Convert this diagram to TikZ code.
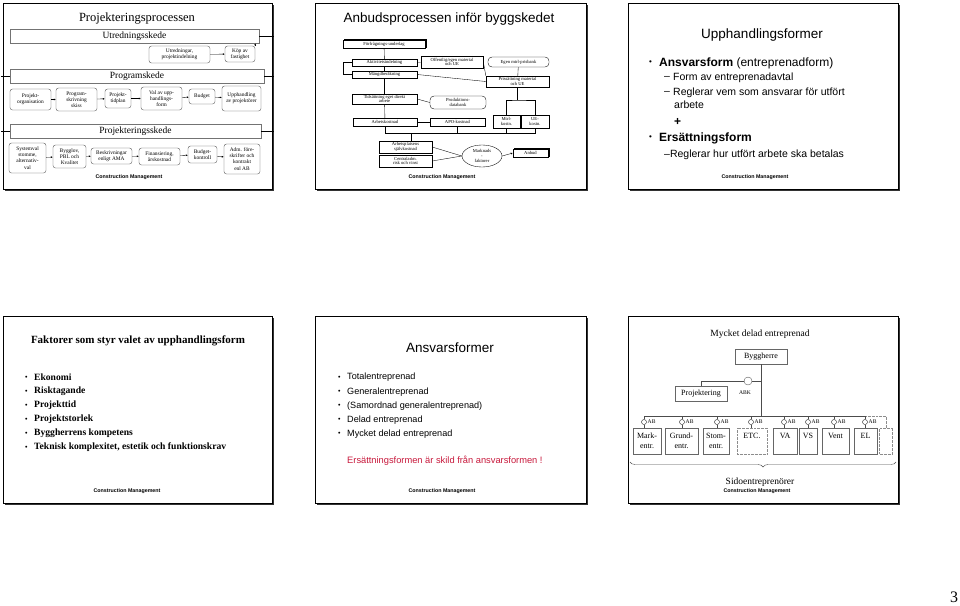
\documentclass[tikz,border=0pt]{standalone}
\usepackage{fontspec}
\setmainfont{Liberation Serif}
\setsansfont{Liberation Sans}
\usetikzlibrary{arrows.meta,shapes.geometric,shadows,decorations.pathreplacing}
\definecolor{redtxt}{RGB}{200,25,60}
\newcommand{\fs}[2]{\fontsize{#1}{#2}\selectfont}
\newcommand{\slideframe}[4]{%
  \fill[black!80] (#1+2,#2+2) rectangle (#3+2,#4+2);
  \draw[line width=0.6pt, fill=white] (#1,#2) rectangle (#3,#4);}
\begin{document}
\begin{tikzpicture}[x=1pt,y=-1pt,
  sz/.style 2 args={minimum width=#1pt, minimum height=#2pt},
  s1title/.style={font=\fs{12.5}{14}},
  s1bar/.style={draw=black!55, fill=white, inner sep=0pt, font=\fs{9.5}{10}, line width=0.4pt},
  s1box/.style={draw=black!70, rounded corners=2.5pt, fill=white, align=center, inner sep=0pt, font=\fs{5.4}{6.2}, line width=0.35pt},
  s1arr/.style={-{Latex[length=2pt,width=1.8pt]}, line width=0.35pt},
  s2box/.style={draw, fill=white, align=center, inner sep=0pt, font=\fs{4.6}{4.8}, line width=0.35pt},
  s2line/.style={line width=0.35pt},
  cmtxt/.style={font=\sffamily\bfseries\fs{5.3}{6}},
  sanstitle/.style={font=\sffamily\fs{13.5}{15}},
  s3big/.style={font=\sffamily\fs{12}{13}, anchor=west, inner sep=0pt},
  s3sub/.style={font=\sffamily\fs{10.5}{12}, anchor=west, inner sep=0pt},
  s4item/.style={font=\bfseries\fs{9.6}{10}, anchor=west, inner sep=0pt},
  s5item/.style={font=\sffamily\fs{9.1}{10}, anchor=west, inner sep=0pt},
  s6title/.style={font=\fs{9.5}{11}},
  s6box/.style={draw=black!60, fill=white, align=center, inner sep=0pt, font=\fs{8}{9.5}, line width=0.35pt},
  s6dot/.style={s6box, densely dotted, draw=black!45},
  abc/.style={circle, draw, fill=white, minimum size=5pt, inner sep=0pt, line width=0.35pt},
  abl/.style={font=\fs{5.6}{6}, anchor=west, inner sep=0pt},
]
\useasboundingbox (0,0) rectangle (960,605);
\fill[white] (0,0) rectangle (960,605);

% ---------------- frames
\slideframe{3}{3}{272}{189}
\slideframe{315}{3}{586}{189}
\slideframe{628}{3}{898}{189}
\slideframe{3}{316}{272}{503}
\slideframe{315}{316}{586}{503}
\slideframe{628}{316}{898}{503}

% ---------------- slide 1
\node[s1title] (t1) at (137,19) {Projekteringsprocessen};
\node[s1bar, sz={249}{14}] (ut) at (134.5,36) {Utredningsskede};
\node[s1box, sz={61}{17}] (ur) at (179.5,54.5) {Utredningar,\\projektindelning};
\node[s1box, sz={30}{16}] (kf) at (240,54) {Köp av\\fastighet};
\node[s1bar, sz={254}{14}] (pr) at (137,76) {Programskede};
\node[s1box, sz={41}{21}] (po) at (30.5,99.5) {Projekt-\\organisation};
\node[s1box, sz={41}{23}] (ps) at (76.5,99.5) {Program-\\skrivning\\skiss};
\node[s1box, sz={26}{19}] (pt) at (118,98.5) {Projekt-\\tidplan};
\node[s1box, sz={41}{23}] (pv) at (161.5,98.5) {Val av upp-\\handlings-\\form};
\node[s1box, sz={26}{15}] (pb) at (202,96.5) {Budget};
\node[s1box, sz={39}{25}] (pu) at (241.5,98.5) {Upphandling\\av projektörer};
\node[s1bar, sz={251}{14}] (pj) at (135.5,131) {Projekteringsskede};
\node[s1box, sz={37}{30}] (sv) at (27.5,158) {Systemval\\stomme,\\alternativ-\\val};
\node[s1box, sz={33}{23}] (bp) at (69.5,156.5) {Bygglov,\\PBL och\\Kvalitet};
\node[s1box, sz={41}{16}] (ba) at (111.5,156) {Beskrivningar\\enligt AMA};
\node[s1box, sz={41}{17}] (fi) at (159.5,156.5) {Finansiering,\\årskostnad};
\node[s1box, sz={29}{17}] (bk) at (202.5,154.5) {Budget-\\kontroll};
\node[s1box, sz={36}{30}] (ad) at (242,159) {Adm. före-\\skrifter och\\kontrakt\\enl AB};
\node[cmtxt] (cm1) at (129,177) {Construction Management};
\draw[s1arr] (ur) -- (kf);
\draw[s1arr] (po) -- (ps);
\draw[s1arr] (ps) -- (pt);
\draw[s1arr] (pt) -- (pv);
\draw[s1arr] (pv) -- (pb);
\draw[s1arr] (pb) -- (pu);
\draw[s1arr] (sv) -- (bp);
\draw[s1arr] (bp) -- (ba);
\draw[s1arr] (ba) -- (fi);
\draw[s1arr] (fi) -- (bk);
\draw[s1arr] (bk) -- (ad);
\draw[s1arr] (kf.north east) -- (kf.north east |- ut.south);
\coordinate (e1) at (274,36);
\coordinate (e2) at (274,76);
\coordinate (e3) at (274,131);
\coordinate (w2) at (1,76);
\coordinate (w3) at (1,131);
\draw[line width=0.4pt] (ut.east) -- (e1);
\draw[line width=0.4pt] (pr.east) -- (e2);
\draw[line width=0.4pt] (pj.east) -- (e3);
\draw[line width=0.4pt] (w2) -- (pr.west);
\draw[line width=0.4pt] (w3) -- (pj.west);

% ---------------- slide 2
\node[sanstitle, anchor=west] (t2) at (340,19) {Anbudsprocessen inför byggskedet};
\node[s2box, sz={82}{8}, copy shadow={shadow xshift=1.3pt, shadow yshift=1.3pt, fill=white, draw}] (ff) at (384,44) {Förfrågnings-underlag};
\node[s2box, sz={65}{7}] (ak) at (384.5,62.5) {Aktivitetsindelning};
\node[s2box, sz={65}{7}] (mb) at (384.5,74.5) {Mängdberäkning};
\node[s2box, sz={62}{12}, line width=0.7pt] (of) at (452,62) {Offentlig/egen material\\och UE};
\node[s2box, sz={61}{10}, rounded corners=4pt] (eg) at (518.5,62) {Egen mtrl-prisbank};
\node[s2box, sz={63}{11}] (pm) at (517.5,81.5) {Prissättning material\\och UE};
\node[s2box, sz={65}{10}] (td) at (384.5,99) {Tidsättning eget direkt\\arbete};
\node[s2box, sz={56}{13}, rounded corners=4pt] (pd) at (458,102.5) {Produktions-\\databank};
\node[s2box, sz={64}{8}] (ar) at (385,122) {Arbetskostnad};
\node[s2box, sz={55}{8}] (apo) at (457.5,122) {APO-kostnad};
\node[s2box, sz={27}{13}] (mk) at (506.5,121.5) {Mtrl-\\kostn.};
\node[s2box, sz={28}{13}] (uk) at (535,121.5) {UE-\\kostn.};
\node[s2box, sz={53}{12}] (as) at (405.5,147) {Arbetsplatsens\\självkostnad};
\node[s2box, sz={53}{12}] (ca) at (405.5,161) {Centraladm.\\risk och vinst};
\node[s2box, ellipse, sz={40}{22}] (mf) at (482,156) {Marknads\\-\\faktorer};
\node[s2box, sz={35}{8}, copy shadow={shadow xshift=1.3pt, shadow yshift=1.3pt, fill=white, draw}] (an) at (530.5,153) {Anbud};
\node[cmtxt] (cm2) at (442,177) {Construction Management};
\draw[s2line] (ff) -- (ak);
\draw[s2line] (ak) -- (mb);
\draw[s2line] (mb) -- (td);
\draw[s2line] (td) -- (ar);
\draw[s2line] (ak.west) -- ++(-9,0) |- (mb.west);
\draw[s2line] (ak) -- (of);
\draw[s2line] (eg) -- (pm);
\draw[s2line] (mb.east) -- (pm.west);
\draw[s2line] (of.east) -- (pm.north west);
\draw[s2line] (pd.west) -- (td.east);
\draw[s2line] (apo) -- (ar);
\coordinate (spl) at (517.5,100);
\draw[s2line] (pm.south) -- (spl);
\draw[s2line] (mk.north) |- (spl) -| (uk.north);
\coordinate (colL) at (385,133);
\coordinate (colR) at (535,133);
\draw[s2line] (ar.south) -- (colL) -- (colR) -- (uk.south);
\draw[s2line] (apo.south) -- (apo.south |- colL);
\draw[s2line] (mk.south) -- (mk.south |- colL);
\draw[s2line] ([xshift=6pt]as.north |- colL) -- ([xshift=6pt]as.north);
\draw[s2line] (as.east) -- (mf.west);
\draw[s2line] (ca.east) -- (mf.west);
\draw[s2line, -{Latex[length=2pt,width=1.8pt]}] (mf.east) -- (an.west);

% ---------------- slide 3
\node[sanstitle] (t3) at (762,35) {Upphandlingsformer};
\node[s3big] (b31) at (649,63) {\fs{8}{9}•};
\node[s3big] (i31) at (659,63) {\textbf{Ansvarsform} (entreprenadform)};
\node[s3sub] (d31) at (664,78) {–};
\node[s3sub] (i32) at (673,78) {Form av entreprenadavtal};
\node[s3sub] (d32) at (664,93) {–};
\node[s3sub] (i33) at (673,93) {Reglerar vem som ansvarar för utfört};
\node[s3sub] (i34) at (674,105) {arbete};
\node[s3big] (pl3) at (674,122) {\textbf{+}};
\node[s3big] (b32) at (649,138) {\fs{8}{9}•};
\node[s3big] (i35) at (659,138) {\textbf{Ersättningsform}};
\node[s3sub] (i36) at (664,155) {–Reglerar hur utfört arbete ska betalas};
\node[cmtxt] (cm3) at (755,177) {Construction Management};

% ---------------- slide 4
\node[font=\bfseries\fs{11}{12}] (t4) at (138,341) {Faktorer som styr valet av upphandlingsform};
\foreach \t [count=\k] in {Ekonomi, Risktagande, Projekttid, Projektstorlek, Byggherrens kompetens, {Teknisk komplexitet, estetik och funktionskrav}} {
  \node[s4item] (b4\k) at (25,363.5+14*\k) {\fs{7}{8}•};
  \node[s4item] (i4\k) at (34,363.5+14*\k) {\t};
}
\node[cmtxt] (cm4) at (127,491) {Construction Management};

% ---------------- slide 5
\node[sanstitle] (t5) at (450,348) {Ansvarsformer};
\foreach \t [count=\k] in {Totalentreprenad, Generalentreprenad, (Samordnad generalentreprenad), Delad entreprenad, Mycket delad entreprenad} {
  \node[s5item] (b5\k) at (338,363.5+14.1*\k) {\fs{7}{8}•};
  \node[s5item] (i5\k) at (347,363.5+14.1*\k) {\t};
}
\node[s5item, text=redtxt, font=\sffamily\fs{9.3}{10}] (r5) at (347,461) {Ersättningsformen är skild från ansvarsformen !};
\node[cmtxt] (cm5) at (442,491) {Construction Management};

% ---------------- slide 6
\node[s6title] (t6) at (760,334) {Mycket delad entreprenad};
\node[s6box, sz={52}{15}] (by) at (761,356.5) {Byggherre};
\node[s6box, sz={52}{15}] (pk) at (701,393.5) {Projektering};
\node[abl, anchor=center] (abk) at (745,393) {ABK};
\coordinate (jc) at (761,381);
\coordinate (busJ) at (761,416);
\node[circle, draw=black!70, fill=white, minimum size=8pt, inner sep=0pt, line width=0.35pt] (ck) at (748,381) {};
\draw[line width=0.35pt, black!70] (by.south) -- (busJ);
\draw[line width=0.35pt, black!70] (jc) -- (ck.east);
\draw[line width=0.35pt, black!70] (ck.west) -- (ck.west -| pk.north) -- (pk.north);
\node[s6box, sz={28}{26}] (m1) at (647,441) {Mark-\\entr.};
\node[s6box, sz={33}{26}] (m2) at (681.5,441) {Grund-\\entr.};
\node[s6box, sz={26}{26}] (m3) at (716,441) {Stom-\\entr.};
\node[s6dot, sz={30}{26}] (m4) at (752,441) {ETC.\\\phantom{X}};
\node[s6box, sz={24}{26}] (m5) at (785,441) {VA\\\phantom{X}};
\node[s6box, sz={18}{26}] (m6) at (808,441) {VS\\\phantom{X}};
\node[s6box, sz={27}{26}] (m7) at (835.5,441) {Vent\\\phantom{X}};
\node[s6box, sz={23}{26}] (m8) at (865.5,441) {EL\\\phantom{X}};
\node[s6dot, sz={13}{26}] (m9) at (886,441) {};
\coordinate (busL) at (644,416);
\coordinate (busR) at (865,416);
\draw[line width=0.35pt, black!70] (busL) -- (busR);
\draw[line width=0.35pt, black!45, densely dotted] (busR) -- (busR -| m9.north) -- (m9.north);
\foreach \i/\x in {1/644, 2/682, 3/717, 4/751, 5/784, 6/808, 7/834, 8/865} {
  \node[abc] (c\i) at (\x,422) {};
  \node[abl] (a\i) at (\x+3.5,422) {AB};
  \draw[line width=0.35pt, black!70] (c\i.north) -- (c\i.north |- busL);
  \draw[line width=0.35pt, black!70] (c\i.south) -- (c\i.south |- m\i.north);
}
\coordinate (brL) at (630,462);
\coordinate (brR) at (896,462);
\draw[line width=0.4pt, black!70, decorate, decoration={brace, mirror, amplitude=5pt}] (brL) -- (brR);
\node[s6title] (sid) at (760,482) {Sidoentreprenörer};
\node[cmtxt] (cm6) at (757,491.5) {Construction Management};

% ---------------- page number
\node[font=\fs{16}{18}] (pg) at (954,597) {3};
\end{tikzpicture}
\end{document}
